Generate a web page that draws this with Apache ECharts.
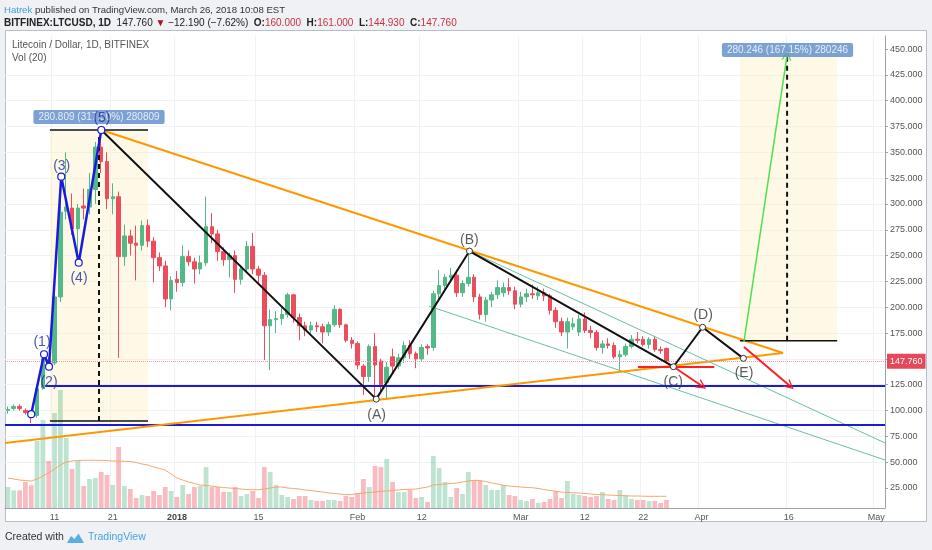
<!DOCTYPE html>
<html>
<head>
<meta charset="utf-8">
<script src="https://cdn.jsdelivr.net/npm/echarts@6/dist/echarts.min.js"></script>
<style>
  html, body { margin: 0; padding: 0; background: #eff1f5; }
  #chart { width: 932px; height: 550px; }
</style>
</head>
<body>
<div id="chart"></div>
<script>
// LTCUSD daily, 3 Dec 2017 .. 26 Mar 2018
const opens = [
  100, 102, 104, 100, 98, 95, 122, 149, 146, 210,
  293, 296, 276, 298, 297, 314, 355, 341, 305, 307,
  249, 269, 262, 260, 279, 264, 248, 240, 208, 227,
  224, 249, 244, 237, 243, 278, 271, 254, 246, 250,
  227, 237, 259, 237, 231, 182, 188, 189, 193, 212,
  190, 182, 178, 182, 181, 176, 183, 198, 183, 168,
  165, 143, 133, 162, 148, 127, 152, 143, 151, 163,
  155, 150, 162, 161, 213, 221, 229, 231, 214, 223,
  229, 210, 193, 207, 212, 214, 219, 216, 203, 210,
  213, 211, 214, 211, 197, 186, 176, 181, 176, 188.6,
  177.5, 175.5, 161, 164.5, 163, 152, 154, 162, 169, 169,
  164, 169, 159, 160
];
const closes = [
  101, 104, 102, 98, 96, 121, 150, 145, 210, 292,
  297, 276, 296, 296, 314, 355, 341, 305, 307, 249,
  269, 262, 260, 279, 264, 248, 240, 208, 226, 224,
  249, 244, 237, 243, 278, 271, 254, 246, 250, 227,
  237, 259, 237, 231, 182, 188, 189, 193, 212, 190,
  182, 178, 182, 181, 176, 183, 198, 183, 168, 165,
  144, 133, 162, 144, 125, 142, 143, 151, 163, 155,
  150, 161, 160.5, 213, 221, 229, 231, 214, 223, 229,
  210, 193, 207, 212, 219, 219, 216, 203, 210, 213,
  212, 214, 211, 197, 186, 176, 186, 184, 188.6, 177.5,
  175.5, 161, 164.5, 163, 152, 154, 162, 169, 168, 164,
  169, 159, 158, 147.76
];
const lows = [
  97, 100, 100, 96, 88, 93, 120, 142, 144, 205,
  285, 270, 243, 285, 290, 300, 330, 295, 290, 151,
  240, 250, 226, 255, 258, 224, 235, 200, 197, 215,
  220, 240, 223, 232, 240, 262, 245, 240, 229, 214,
  222, 233, 232, 222, 149, 139, 175, 183, 190, 185,
  168, 172, 175, 176, 165, 172, 181, 180, 166, 160,
  140, 115, 128, 111, 118, 112, 135, 140, 146, 150,
  141, 148, 154, 158, 205, 215, 225, 210, 210, 220,
  205, 188, 186, 200, 208, 210, 212, 198, 200, 205,
  208, 207, 206, 193, 180, 172, 160, 178, 172, 175,
  170, 158, 155, 160, 150, 139, 152, 160, 165, 162,
  160, 157, 155, 144.93
];
const highs = [
  104, 106, 106, 102, 100, 124, 155, 152, 214, 326,
  350, 310, 300, 315, 330, 360, 371.6, 350, 320, 312,
  280, 275, 279, 284, 285, 268, 253, 245, 230, 235,
  260, 255, 248, 250, 307, 291, 275, 258, 253, 255,
  241, 264, 272, 240, 234, 198, 196, 200, 214, 213,
  194, 186, 186, 186, 184, 186, 202, 199, 184, 171,
  167, 145, 164, 175, 150, 147, 160, 155, 167, 168,
  157, 164, 164, 216, 236, 232, 238, 236, 226, 254.5,
  232, 213, 210, 215, 226, 224, 228, 220, 215, 218,
  222, 220, 218, 213, 200, 190, 190, 190, 193, 195,
  182, 178, 168, 170, 166, 158, 165, 173, 176, 172,
  171, 172, 162, 161
];
// volume in pane units, and its 20-day average as drawn
const volumes = [
  21, 17.6, 17.6, 26, 22.7, 67, 88, 47, 95, 118,
  70, 39, 47, 22, 29, 30, 36, 33, 23, 61,
  22, 19, 10, 13, 12, 17, 13, 21, 17, 11,
  23, 14, 21, 22, 41, 21, 21, 16, 16, 21,
  12, 14, 17, 10, 41, 36, 23, 13, 11, 9,
  12, 12, 8, 7, 7, 8, 8, 7, 12, 11,
  15, 29, 21, 42, 41, 49, 26, 16, 16, 18,
  10, 11, 6, 52, 40, 26, 11, 20, 14, 36,
  28, 27, 23, 18, 18, 23, 13, 12, 8, 7,
  9, 5, 6, 9, 17, 10, 27, 14, 13, 12,
  11, 12, 16, 9, 8, 18, 13, 9, 8, 8,
  7, 7, 5, 8
];
const volumeMA = [
  30, 29, 28, 27.5, 27, 29, 32, 35, 39, 43,
  46, 47, 47.5, 47.7, 47.7, 47.7, 47.7, 47.5, 47, 47,
  46.7, 46.5, 45.5, 44, 43, 41, 39.5, 38, 34, 30,
  28, 26, 24.5, 23, 22.5, 22, 21, 20.5, 20, 19.5,
  19, 18.5, 18.3, 18.3, 19, 20, 21, 21, 20, 19.5,
  19, 18, 17.5, 16.7, 16, 15, 14.5, 14, 13.3, 13.5,
  14.5, 15, 15.5, 16, 16.7, 17, 17.5, 18, 18.5, 18.7,
  19, 20, 21, 23, 23.5, 24, 24.5, 25, 26, 27,
  27.7, 27.5, 26.5, 25, 24, 22.7, 22, 21.5, 21, 20.5,
  20.3, 19.5, 18.5, 17.5, 16.7, 16, 15.5, 15.2, 15, 14.5,
  14, 13.5, 13.3, 13, 12.7, 12.5, 12.2, 12, 12, 11.8,
  11.7, 11.7, 11.7, 11.7
];

// daily categories, 3 Dec 2017 .. 2 May 2018
const dates = [];
for (let i = 0; i < 151; i++) {
  dates.push(new Date(Date.UTC(2017, 11, 3 + i)).toISOString().slice(0, 10));
}
const tickDates = ['2017-12-11', '2017-12-21', '2018-01-01', '2018-01-15', '2018-02-01', '2018-02-12',
  '2018-03-01', '2018-03-12', '2018-03-22', '2018-04-01', '2018-04-16', '2018-05-01'];
const tickNames = ['11', '21', '2018', '15', 'Feb', '12', 'Mar', '12', '22', 'Apr', '16', 'May'];
const priceTicks = [25, 50, 75, 100, 125, 150, 175, 200, 225, 250, 275, 300, 325, 350, 375, 400, 425, 450];
const lastPrice = 147.76;

// drawings, [day index, price]
const impulseWave = [[4, 96.5], [6.2, 154.5], [7.05, 142.4], [9.15, 326.4], [12.15, 243.1], [16.03, 371.6]];
const correctionWave = [[16.03, 371.6], [63.2, 111], [79.2, 254.4], [114.2, 142.4], [119.2, 180.6], [126.2, 150.5]];
const triangleTop = [[16.03, 371.6], [133, 155.7]];
const triangleBottom = [[-0.5, 68.6], [133, 155.7]];
const channelTop = [[79.2, 254.4], [150.5, 68.6]];
const channelBottom = [[72.25, 201.2], [150.5, 52.1]];
const supportTop = [[6.4, 123.7], [150.5, 123.7]];
const supportBottom = [[-0.5, 86], [150.5, 86]];
const redLevel = [[108.1, 142.2], [121.2, 142.2]];
const redArrowC = [[114.2, 142.4], [119.1, 123.7]];
const redArrowE = [[126.3, 161.5], [134.2, 123.7]];
const greenTarget = [[126.3, 166.6], [133.7, 444]];
const measureOneX = [7.2, 15.63, 24.04];
const measureOneY = [89.9, 371.6];
const measureTwoX = [125.6, 133.7, 142.3];
const measureTwoY = [167.6, 448.5];
const measureTexts = ['280.809 (317.50%) 280809', '280.246 (167.15%) 280246'];
const measureTextPos = [[15.63, 384.2], [133.77, 449]];
const impulseNames = ['(1)', '(2)', '(3)', '(4)', '(5)'];
const impulseTextPos = [[5.85, 166.3], [7.05, 127.6], [9.23, 336.7], [12.2, 228.6], [16.14, 383.2]];
const correctionNames = ['(A)', '(B)', '(C)', '(D)', '(E)'];
const correctionTextPos = [[63.28, 95.7], [79.17, 265.1], [114.17, 127.9], [119.3, 192.5], [126.3, 136.3]];

const FONT = 'Liberation Sans';
const UP = '#53b987';
const DOWN = '#eb4d5c';
const CHEVRON = 'path://M0,10L5,0L10,10L8.6,10L5,2.8L1.4,10Z';

const chart = echarts.init(document.getElementById('chart'));

function isTick(index, value) {
  return tickDates.indexOf(value) >= 0;
}

function drawLine(points, color, width, type, z) {
  return {
    type: 'line', xAxisIndex: 2, yAxisIndex: 0, data: points,
    symbol: 'none', silent: true, z: z || 4,
    lineStyle: { color: color, width: width, type: type || 'solid' }
  };
}

function arrow(points, color, width) {
  return {
    type: 'lines', coordinateSystem: 'cartesian2d', xAxisIndex: 2, yAxisIndex: 0,
    symbol: ['none', CHEVRON], symbolSize: 10, silent: true, z: 5,
    lineStyle: { color: color, width: width, opacity: 1, curveness: 0 },
    data: [{ coords: points }]
  };
}

function textSeries(names, pos, color, size) {
  return {
    type: 'scatter', xAxisIndex: 2, yAxisIndex: 0, symbolSize: 1, silent: true, z: 7,
    itemStyle: { color: 'transparent' },
    label: { show: true, position: 'inside', formatter: '{b}', color: color, fontSize: size, fontFamily: FONT },
    data: names.map((n, i) => ({ name: n, value: pos[i] }))
  };
}

const HEAD1 = '9.6px "Liberation Sans", sans-serif';
const HEAD2 = '10px "Liberation Sans", sans-serif';
const HEAD2B = 'bold 10px "Liberation Sans", sans-serif';

const option = {
  animation: false,
  backgroundColor: '#eff1f5',
  textStyle: { fontFamily: FONT },
  grid: [
    { left: 5, right: 47, top: 23.2, bottom: 36.2 },
    { left: 5, right: 47, top: 36, bottom: 42 }
  ],
  xAxis: [
    { type: 'category', gridIndex: 0, data: dates, show: false },
    {
      type: 'category', gridIndex: 1, data: dates,
      axisLine: { lineStyle: { color: '#9aa3ad' } },
      axisTick: { show: false },
      axisLabel: {
        interval: isTick, color: '#555', fontSize: 9, margin: 5,
        formatter: function (v) {
          const k = tickDates.indexOf(v);
          return tickNames[k] === '2018' ? '{b|2018}' : tickNames[k];
        },
        rich: { b: { fontWeight: 'bold', fontSize: 9, color: '#444' } }
      },
      splitLine: { show: true, interval: isTick, lineStyle: { color: '#eef1f5' } }
    },
    { type: 'value', gridIndex: 0, min: -0.5, max: 150.5, show: false }
  ],
  yAxis: [
    {
      type: 'value', gridIndex: 0, position: 'right', min: 0, max: 475, interval: 25,
      axisLine: { show: false, onZero: false },
      axisTick: { show: true, length: 3, customValues: priceTicks, lineStyle: { color: '#9aa3ad' } },
      axisLabel: {
        color: '#555', fontSize: 9, margin: 5, customValues: priceTicks,
        formatter: function (v) {
          return (v < 25 || v > 450 || v === 150) ? '' : v.toFixed(3);
        }
      },
      splitLine: { show: true, showMinLine: false, showMaxLine: false, lineStyle: { color: '#eef1f5' } }
    },
    {
      type: 'value', gridIndex: 1, position: 'right', min: 0, max: 472,
      axisLine: { show: true, onZero: false, lineStyle: { color: '#9aa3ad' } },
      axisTick: { show: false }, axisLabel: { show: false }, splitLine: { show: false }
    }
  ],
  graphic: [
    { type: 'rect', z: -1, shape: { x: 5.5, y: 30.5, width: 921, height: 491 },
      style: { fill: '#ffffff', stroke: '#b8bec6', lineWidth: 1 } },
    { type: 'text', x: 4, y: 5, z: 10, style: {
        text: '{u|Hatrek}{t| published on TradingView.com, March 26, 2018 10:08 EST}',
        font: HEAD1,
        rich: {
          u: { fill: '#3fa1d8', font: HEAD1 },
          t: { fill: '#333', font: HEAD1 }
        } } },
    { type: 'text', x: 4, y: 18, z: 10, style: {
        text: '{k|BITFINEX:LTCUSD, 1D}{n|  147.760 }{a|▼}{n| −12.190 (−7.62%)  }{k|O:}{r|160.000}{k|  H:}{r|161.000}{k|  L:}{r|144.930}{k|  C:}{r|147.760}',
        font: HEAD2,
        rich: {
          k: { fill: '#222', font: HEAD2B },
          n: { fill: '#222', font: HEAD2 },
          a: { fill: '#b0121b', font: HEAD2 },
          r: { fill: '#c8323f', font: HEAD2 }
        } } },
    { type: 'text', x: 12, y: 40, z: 10, style: { text: 'Litecoin / Dollar, 1D, BITFINEX', fill: '#555', fontSize: 10, fontFamily: FONT } },
    { type: 'text', x: 12, y: 53, z: 10, style: { text: 'Vol (20)', fill: '#555', fontSize: 10, fontFamily: FONT } },
    { type: 'text', x: 5, y: 532, z: 10, style: { text: 'Created with', fill: '#333', fontSize: 10.5, fontFamily: FONT } },
    { type: 'polygon', z: 10, shape: { points: [[67, 543], [71, 536], [74.5, 539], [78.5, 533.5], [84, 543]] },
      style: { fill: '#5aaee3' } },
    { type: 'text', x: 88, y: 532, z: 10, style: { text: 'TradingView', fill: '#4aa3df', fontSize: 10.5, fontFamily: FONT } }
  ],
  series: [
    {
      type: 'line', xAxisIndex: 2, yAxisIndex: 0, data: [], z: 0, silent: true,
      markArea: {
        silent: true,
        itemStyle: { color: 'rgba(253, 240, 200, 0.45)' },
        data: [
          [{ coord: [measureOneX[0], measureOneY[0]] }, { coord: [measureOneX[2], measureOneY[1]] }],
          [{ coord: [measureTwoX[0], measureTwoY[0]] }, { coord: [measureTwoX[2], measureTwoY[1]] }]
        ]
      }
    },
    {
      type: 'bar', xAxisIndex: 1, yAxisIndex: 1, data: volumes, barCategoryGap: '18%', z: 1, silent: true,
      itemStyle: {
        color: function (p) {
          return closes[p.dataIndex] >= opens[p.dataIndex] ? 'rgba(83,185,135,0.38)' : 'rgba(235,77,92,0.38)';
        }
      }
    },
    {
      type: 'line', xAxisIndex: 1, yAxisIndex: 1, data: volumeMA, symbol: 'none', z: 1, silent: true,
      lineStyle: { color: '#f5a868', width: 1 }
    },
    {
      type: 'candlestick', xAxisIndex: 0, yAxisIndex: 0, z: 2, barWidth: 4,
      data: opens.map((o, i) => [o, closes[i], lows[i], highs[i]]),
      itemStyle: { color: UP, color0: DOWN, borderColor: UP, borderColor0: DOWN, borderWidth: 1 },
      markLine: {
        silent: true, symbol: 'none',
        lineStyle: { color: '#f29aa4', type: 'dotted', width: 1 },
        label: {
          position: 'end', distance: 2, formatter: lastPrice.toFixed(3),
          backgroundColor: '#e5485a', color: '#fff', fontSize: 9, padding: [3, 3]
        },
        data: [{ yAxis: lastPrice }]
      }
    },
    drawLine(channelTop, '#68c0a4', 1, 'solid', 3),
    drawLine(channelBottom, '#68c0a4', 1, 'solid', 3),
    drawLine(supportTop, '#1b1bd6', 2),
    drawLine(supportBottom, '#1b1bd6', 2),
    drawLine(triangleTop, '#ff9800', 2),
    drawLine(triangleBottom, '#ff9800', 2),
    drawLine([[measureOneX[0], measureOneY[1]], [measureOneX[2], measureOneY[1]]], '#111', 1.5),
    drawLine([[measureOneX[0], measureOneY[0]], [measureOneX[2], measureOneY[0]]], '#111', 1.5),
    drawLine([[measureOneX[1], measureOneY[0]], [measureOneX[1], measureOneY[1]]], '#111', 2, [5, 4]),
    drawLine([[measureTwoX[0], measureTwoY[0]], [measureTwoX[2], measureTwoY[0]]], '#111', 1.5),
    drawLine([[measureTwoX[1], measureTwoY[0]], [measureTwoX[1], 445]], '#111', 2, [5, 4]),
    drawLine(redLevel, '#ff1f1f', 2),
    arrow(redArrowC, '#ff1f1f', 2),
    arrow(redArrowE, '#ff1f1f', 2),
    arrow(greenTarget, '#4fe04f', 1.5),
    {
      type: 'line', xAxisIndex: 2, yAxisIndex: 0, data: correctionWave, z: 5, silent: true,
      symbol: 'circle', symbolSize: 6, showSymbol: true,
      itemStyle: { color: '#fff', borderColor: '#333', borderWidth: 1 },
      lineStyle: { color: '#111', width: 2 }
    },
    {
      type: 'line', xAxisIndex: 2, yAxisIndex: 0, data: impulseWave, z: 5, silent: true,
      symbol: 'circle', symbolSize: 7, showSymbol: true,
      itemStyle: { color: '#fff', borderColor: '#1b1bd6', borderWidth: 1.2 },
      lineStyle: { color: '#1b1be0', width: 2.5 }
    },
    {
      type: 'scatter', xAxisIndex: 2, yAxisIndex: 0, symbolSize: 1, silent: true, z: 6,
      itemStyle: { color: 'transparent' },
      label: {
        show: true, position: 'inside', formatter: '{b}', color: '#fff', fontSize: 10, fontFamily: FONT,
        backgroundColor: '#5b8bc9', padding: [2, 5], borderRadius: 2
      },
      data: measureTexts.map((t, i) => ({ name: t, value: measureTextPos[i] }))
    },
    textSeries(impulseNames, impulseTextPos, '#1f2d9a', 14),
    textSeries(correctionNames, correctionTextPos, '#333', 14)
  ]
};

chart.setOption(option);
</script>
</body>
</html>
